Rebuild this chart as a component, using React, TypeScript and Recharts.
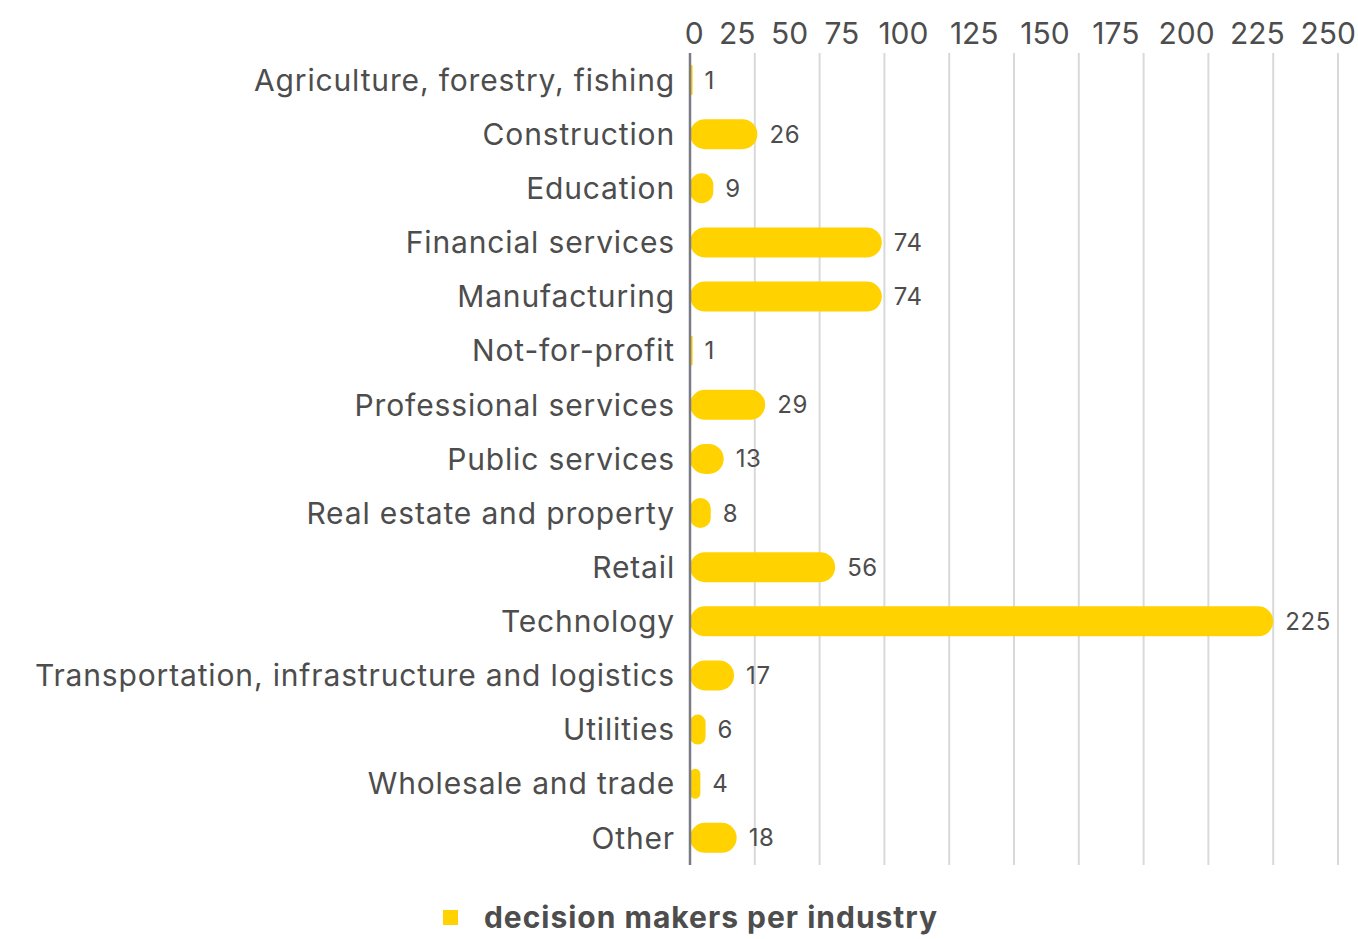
import React from "react";
import {
  BarChart,
  Bar,
  XAxis,
  YAxis,
  CartesianGrid,
  LabelList,
  Legend,
} from "recharts";

const industries = [
  "Agriculture, forestry, fishing",
  "Construction",
  "Education",
  "Financial services",
  "Manufacturing",
  "Not-for-profit",
  "Professional services",
  "Public services",
  "Real estate and property",
  "Retail",
  "Technology",
  "Transportation, infrastructure and logistics",
  "Utilities",
  "Wholesale and trade",
  "Other",
];

const decisionMakers = [1, 26, 9, 74, 74, 1, 29, 13, 8, 56, 225, 17, 6, 4, 18];

const xTicks = [0, 25, 50, 75, 100, 125, 150, 175, 200, 225, 250];

const seriesName = "decision makers per industry";

const data = industries.map((name, i) => ({ name, value: decisionMakers[i] }));

const W = 1358;
const H = 939;
const PLOT_LEFT = 690;
const PLOT_RIGHT = 20;
const PLOT_W = W - PLOT_LEFT - PLOT_RIGHT;
const MAX = 250;

const FONT = "Inter, 'Noto Sans', sans-serif";
const TEXT = "#4d4d4d";
const YELLOW = "#ffd200";

// the top labels are packed like a line of text, not centred on the grid lines
const DIGIT = 18.5;
const GAP = 15.3;
function packedCenter(index: number) {
  let pos = -5;
  for (let j = 0; j < index; j++) pos += String(xTicks[j]).length * DIGIT + GAP;
  return pos + (String(xTicks[index]).length * DIGIT) / 2;
}

function TopTick(props: any) {
  const { x, y, payload } = props;
  const value = payload.value;
  const axisStart = x - (value / MAX) * PLOT_W;
  const i = xTicks.indexOf(value);
  return (
    <text
      x={axisStart + packedCenter(i)}
      y={y}
      textAnchor="middle"
      fontSize={30}
      fontFamily={FONT}
      fill={TEXT}
    >
      {value}
    </text>
  );
}

function LegendContent() {
  return (
    <div
      style={{
        display: "flex",
        alignItems: "center",
        justifyContent: "center",
        paddingLeft: 23,
        fontFamily: FONT,
      }}
    >
      <span
        style={{
          width: 15,
          height: 15,
          background: YELLOW,
          display: "inline-block",
          marginRight: 26,
        }}
      />
      <span style={{ fontSize: 30, fontWeight: 700, color: TEXT, letterSpacing: 1 }}>
        {seriesName}
      </span>
    </div>
  );
}

export default function App() {
  return (
    <div style={{ position: "absolute", left: 0, top: 0, width: W, height: H, background: "#fff" }}>
      <BarChart
        width={W}
        height={H}
        data={data}
        layout="vertical"
        margin={{ top: 0, right: PLOT_RIGHT, bottom: 74, left: 10 }}
      >
        <CartesianGrid
          horizontal={false}
          stroke="#d9d9d9"
          strokeWidth={2}
        />
        <XAxis
          type="number"
          orientation="top"
          domain={[0, MAX]}
          ticks={xTicks}
          height={53}
          axisLine={false}
          tickLine={false}
          tickSize={0}
          tickMargin={9}
          tick={<TopTick />}
          interval={0}
        />
        <YAxis
          type="category"
          dataKey="name"
          width={680}
          axisLine={{ stroke: "#7b7b85", strokeWidth: 2.5 }}
          tickLine={false}
          tickSize={0}
          tickMargin={15}
          interval={0}
          tick={{ fontSize: 30, fontFamily: FONT, fill: TEXT, letterSpacing: 0.85 }}
        />
        <Legend
          verticalAlign="middle"
          align="center"
          layout="horizontal"
          content={<LegendContent />}
          wrapperStyle={{ top: 899, left: 0, width: W }}
        />
        <Bar
          dataKey="value"
          name={seriesName}
          fill={YELLOW}
          barSize={30}
          radius={15}
          isAnimationActive={false}
        >
          <LabelList
            dataKey="value"
            position="right"
            offset={12}
            fontSize={24}
            fontFamily={FONT}
            fill={TEXT}
            letterSpacing={0.6}
          />
        </Bar>
      </BarChart>
    </div>
  );
}
